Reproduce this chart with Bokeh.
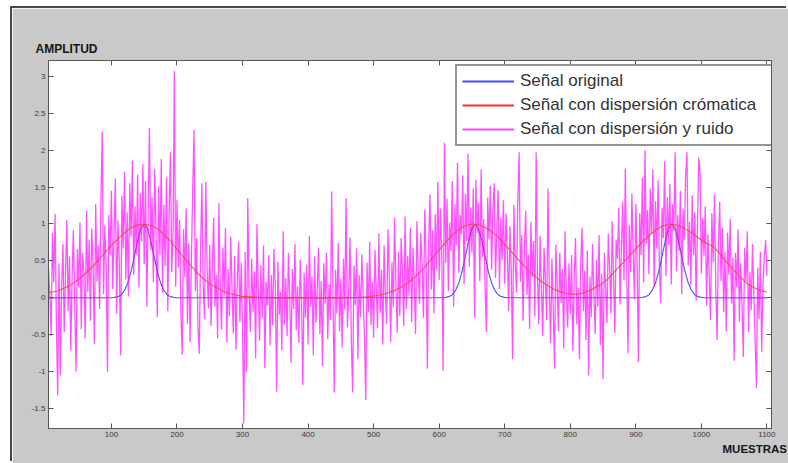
from bokeh.plotting import figure
from bokeh.models import Range1d, LinearAxis, FixedTicker, Legend, LegendItem, Title
from bokeh.embed import file_html
from bokeh.resources import INLINE

# ---------------- data ----------------
x_ticks = [100, 200, 300, 400, 500, 600, 700, 800, 900, 1000, 1100]
y_ticks = [-1.5, -1, -0.5, 0, 0.5, 1, 1.5, 2, 2.5, 3]
y_tick_labels = ["-1.5", "-1", "-0.5", "0", "0.5", "1", "1.5", "2", "2.5", "3"]

series_names = ["Señal original", "Señal con dispersión crómatica", "Señal con dispersión y ruido"]

# original signal (blue)
blue_x = [0,
          100, 105, 110, 115, 120, 125, 130, 135, 140, 145, 150, 155, 160, 165, 170, 175, 180, 185, 190, 195, 200,
          605, 610, 615, 620, 625, 630, 635, 640, 645, 650, 655, 660, 665, 670, 675, 680, 685, 690, 695, 700, 705,
          905, 910, 915, 920, 925, 930, 935, 940, 945, 950, 955, 960, 965, 970, 975, 980, 985, 990, 995, 1000, 1005,
          1100]
blue_y = [0,
          0.002, 0.006, 0.017, 0.044, 0.101, 0.203, 0.36, 0.563, 0.775, 0.938, 1.0, 0.938, 0.775, 0.563, 0.36, 0.203, 0.101, 0.044, 0.017, 0.006, 0.002,
          0.002, 0.006, 0.017, 0.044, 0.101, 0.203, 0.36, 0.563, 0.775, 0.938, 1.0, 0.938, 0.775, 0.563, 0.36, 0.203, 0.101, 0.044, 0.017, 0.006, 0.002,
          0.002, 0.006, 0.017, 0.044, 0.101, 0.203, 0.36, 0.563, 0.775, 0.938, 1.0, 0.938, 0.775, 0.563, 0.36, 0.203, 0.101, 0.044, 0.017, 0.006, 0.002,
          0]

# dispersed signal (red), one value every 10 samples from 0 to 1100
red_y = [0.07, 0.08, 0.10, 0.14, 0.19, 0.25, 0.33, 0.41, 0.51, 0.61,
         0.71, 0.80, 0.88, 0.95, 0.99, 1.00, 0.98, 0.94, 0.86, 0.77,
         0.66, 0.55, 0.45, 0.35, 0.26, 0.19, 0.14, 0.09, 0.06, 0.04,
         0.02, 0.015, 0.01, 0.005, 0.003, 0.0, 0.0, 0.0, 0.0, 0.0,
         0.0, 0.0, 0.0, 0.0, 0.0, 0.0, 0.0, 0.005, 0.009, 0.015,
         0.025, 0.04, 0.062, 0.093, 0.135, 0.19, 0.26, 0.34, 0.44, 0.54,
         0.65, 0.75, 0.85, 0.93, 0.98, 1.00, 0.99, 0.956, 0.897, 0.818,
         0.726, 0.627, 0.526, 0.43, 0.341, 0.263, 0.198, 0.14, 0.10, 0.07,
         0.05, 0.05, 0.065, 0.10, 0.15, 0.20, 0.28, 0.38, 0.47, 0.57,
         0.66, 0.76, 0.84, 0.92, 0.97, 1.00, 0.99, 0.96, 0.91, 0.85,
         0.78, 0.73, 0.68, 0.58, 0.47, 0.37, 0.28, 0.19, 0.14, 0.10,
         0.08]
red_x = [10 * i for i in range(len(red_y))]

# dispersed + noise (magenta), one value every 2 samples from 0 to 1100
noisy_y = [
    0.62, -0.35, 0.41, 0.05, -0.52, 0.88, 0.21, 1.14, -0.28, -1.32, 0.47, -1.05, 0.12, 0.73, -0.46, 0.34, 1.05, -0.18, 0.56, -0.71, 0.28, 0.92, -0.09, -1.0, 0.66,
    0.15, 1.02, -0.42, 0.61, 0.33, -0.55, 1.18, 0.08, 0.79, -0.31, 0.94, 0.46, -0.62, 1.27, 0.22, 0.71, -0.15, 1.33, 2.25, 0.05, 0.98, 0.41, -1.0, 1.12, 0.58,
    1.45, 0.12, 0.86, 1.62, -0.21, 1.05, 0.48, -0.78, 1.38, 0.67, 1.71, 0.25, 1.16, 0.02, 1.55, 0.83, 1.86, 0.31, 1.24, 0.59, 1.67, 0.14, 1.42, 0.76, 1.81,
    0.46, 1.58, -0.12, 1.19, 2.3, 0.64, 1.37, 0.21, 1.74, 0.92, -0.26, 1.51, 0.58, 1.88, 0.07, 1.26, 0.43, 1.63, -0.18, 1.14, 1.97, 0.35, 0.88, 3.07, 0.15,
    1.32, 0.41, 1.06, -0.22, -0.77, 0.93, 0.28, 1.21, -0.35, 0.74, -0.6, 0.52, 1.45, 2.27, 0.09, 0.81, -0.41, -0.76, 0.66, 1.55, 0.18, -0.29, 1.57, 0.37, -0.14,
    0.72, -0.38, 0.45, 1.08, -0.12, 0.31, -0.55, 1.28, 0.16, -0.43, 0.68, 0.02, 0.95, -0.6, 0.39, -0.25, 0.83, 0.11, -0.48, 0.57, -0.7, 0.24, 0.76, -0.33, 0.48,
    -0.41, -1.7, 0.62, -1.0, 1.35, 0.07, -0.46, 0.53, -0.19, 0.36, -0.82, 1.0, 0.14, -0.58, 0.44, -0.27, 0.71, -0.95, 0.22, -0.11, 0.58, -0.64, 0.31, -0.37, 0.66,
    0.18, -1.27, 0.49, -0.23, 0.08, -0.71, 0.9, -0.36, 0.27, -0.52, 0.61, 0.04, -0.88, 0.39, -0.15, 0.73, -0.44, 0.16, -0.61, 0.52, -0.05, -1.18, 0.34, -0.27, 0.45,
    -0.63, 0.84, -0.12, 0.29, -0.78, 0.56, -0.34, 0.11, 0.68, -0.49, 0.23, -0.92, 0.47, -0.08, 0.61, -0.56, 0.19, -0.3, 1.44, 0.02, -1.28, 0.38, -0.21, 0.74, -0.45,
    0.26, -0.67, 0.53, -0.16, 1.35, -0.4, 0.09, 0.82, -0.58, -1.28, 0.44, -0.1, 0.67, -0.83, 0.31, -0.26, 0.59, 0.05, -0.52, -1.38, 0.48, -0.19, 0.76, -0.37, 0.22,
    -0.54, 0.65, 0.12, -0.41, 0.87, -0.2, 0.38, -0.63, 0.71, 0.04, -0.35, 0.93, 0.26, -0.6, 0.49, -0.13, 1.08, 0.17, -0.47, 0.62, -0.24, 0.81, 0.33, -0.38, 1.1,
    -0.15, 0.57, 0.03, 0.95, -0.33, 0.68, 0.21, -0.49, 1.04, 0.36, -0.08, 0.88, 0.45, -0.27, 1.19, 0.52, -0.96, 0.74, 1.4, 0.11, 0.92, -0.21, 1.13, 0.38, 1.57,
    0.24, 1.21, 0.56, -0.99, 2.1, 0.47, 1.34, 0.09, 1.02, 0.63, 1.58, -0.12, 1.27, 0.71, 1.83, 0.34, 1.12, 0.86, 1.66, 0.18, 1.41, 0.77, 1.95, 0.42, 1.23,
    0.61, 1.48, -0.27, 1.6, 0.88, 1.29, 0.23, 1.74, 0.55, 1.07, 0.16, -0.46, 1.36, 0.79, 1.52, 0.38, 1.18, 1.55, 0.27, 0.94, 1.46, 0.12, 1.08, 0.51, 1.32,
    0.19, 1.14, 0.62, -0.18, 0.97, 0.35, -0.83, 1.26, 0.48, 0.07, 1.37, 1.97, 0.22, 0.85, -0.31, 0.66, 1.18, 0.04, 0.59, -0.42, 1.03, 0.28, 0.77, -0.25, 1.97,
    0.31, -0.36, 0.84, 0.12, -0.52, 0.67, 0.25, -0.3, 1.48, 0.09, -0.61, 0.53, -0.14, -0.96, 0.72, 0.18, -0.45, 0.61, -0.07, 0.39, -0.68, 0.9, 0.03, -0.4, 0.47,
    -0.22, 0.58, -0.71, 0.26, 0.81, -0.36, 0.14, -0.83, 0.49, 0.95, -0.18, 0.37, -0.57, 0.64, -1.05, 0.29, -0.26, 0.73, 0.06, -0.49, 0.52, -0.12, 0.85, -0.64, 0.33,
    -1.1, 0.61, 0.15, -0.34, 0.87, 0.42, -0.21, 1.04, 0.28, -0.47, 0.79, 0.53, 1.22, -0.09, 0.66, 1.3, 0.24, 1.75, 0.47, -0.75, 0.98, 0.35, 1.41, 0.61, -0.02,
    1.27, 0.44, -0.87, 1.15, 0.58, 1.63, 0.21, 2.0, 0.73, 1.19, 0.32, 1.48, 0.86, 1.74, 0.15, 1.31, 0.67, 1.59, 0.4, -0.07, 1.22, 0.81, 1.85, 0.29, 1.36,
    0.72, 1.54, 0.18, 1.27, 0.91, 1.97, 0.36, 1.12, 0.63, 1.45, 0.05, 1.21, 0.78, 1.66, 1.97, 0.44, 1.03, 0.17, 1.39, 0.58, 1.16, -0.04, 0.92, 1.9, 1.7,
    0.33, 1.08, 0.57, 1.24, -0.11, 0.86, 0.29, -0.3, 1.15, 0.48, 1.4, 0.12, -0.57, 0.74, 1.3, 0.23, 0.95, -0.19, 0.62, -0.45, 0.88, 0.31, 1.07, -0.08, 0.54,
    -0.85, 0.61, 0.14, 0.93, -0.32, 0.47, -0.11, -0.8, 0.68, 0.22, 0.9, -0.46, 0.35, -0.17, 0.73, 0.06, -0.58, -1.22, 0.41, -0.29, 0.62, -0.73, 0.19, 0.55, 0.78,
    0.3]
noisy_x = [2 * i for i in range(len(noisy_y))]

# ---------------- figure ----------------
p = figure(width=776, height=455,
           x_range=Range1d(4, 1107), y_range=Range1d(-1.767, 3.212),
           output_backend="svg", toolbar_location=None,
           x_axis_location=None, y_axis_location=None,
           min_border_left=36, min_border_top=52, min_border_right=17, min_border_bottom=35)
p.margin = (8, 0, 0, 12)
p.styles = {"box-shadow": "-2px -2px 0 0 #4a4a4a"}
p.border_fill_color = "#c9c9c9"
p.background_fill_color = "white"
p.outline_line_color = "#555555"
p.outline_line_width = 1
p.xgrid.grid_line_color = None
p.ygrid.grid_line_color = None

AX = "#555555"


def style_axis(ax, show_labels, ticks):
    ax.major_tick_in = 5
    ax.major_tick_out = 0
    ax.minor_tick_line_color = None
    ax.axis_line_color = AX
    ax.major_tick_line_color = AX
    ax.major_label_text_font = "Liberation Sans"
    ax.major_label_text_color = "#3a3a3a"
    ax.major_label_standoff = 3
    ax.major_label_text_font_size = "8px"
    if not show_labels:
        ax.major_label_overrides = {t: "" for t in ticks}


xb = LinearAxis(ticker=FixedTicker(ticks=x_ticks))
style_axis(xb, True, x_ticks)
xt = LinearAxis(ticker=FixedTicker(ticks=x_ticks))
style_axis(xt, False, x_ticks)
yl = LinearAxis(ticker=FixedTicker(ticks=y_ticks),
                major_label_overrides={t: s for t, s in zip(y_ticks, y_tick_labels)})
style_axis(yl, True, y_ticks)
yr = LinearAxis(ticker=FixedTicker(ticks=y_ticks))
style_axis(yr, False, y_ticks)
p.add_layout(xb, "below")
p.add_layout(xt, "above")
p.add_layout(yl, "left")
p.add_layout(yr, "right")

BLUE = "#4d5ff7"
RED = "#ff4434"
MAG = "#ff00ff"

r_blue = p.line(blue_x, blue_y, line_color=BLUE, line_width=1.2)
r_mag = p.line(noisy_x, noisy_y, line_color=MAG, line_width=1.3, line_alpha=0.68)
r_red = p.line(red_x, red_y, line_color=RED, line_width=1.1, line_alpha=0.9)

# legend keys: thicker strokes, one point each (nothing drawn in the plot)
k_blue = p.line(blue_x[:1], blue_y[:1], line_color="#3c4cff", line_width=2)
k_red = p.line(red_x[:1], red_y[:1], line_color="#ff3030", line_width=2)
k_mag = p.line(noisy_x[:1], noisy_y[:1], line_color="#ff44ff", line_width=2)

legend = Legend(items=[LegendItem(label=series_names[0], renderers=[k_blue]),
                       LegendItem(label=series_names[1], renderers=[k_red]),
                       LegendItem(label=series_names[2], renderers=[k_mag])],
                location=(407, 282))
legend.label_text_font = "Liberation Sans"
legend.label_text_font_size = "17px"
legend.label_text_color = "#333333"
legend.glyph_width = 52
legend.glyph_height = 20
legend.label_height = 20
legend.label_width = 248
legend.label_standoff = 6
legend.spacing = 4
legend.padding = 5
legend.margin = 0
legend.border_line_color = "#2a2a2a"
legend.border_line_width = 2
legend.background_fill_color = "white"
legend.background_fill_alpha = 1
p.add_layout(legend, "center")

p.title.text = "AMPLITUD"
p.title.align = "left"
p.title.offset = -13
p.title.standoff = 9
p.title.text_font = "Liberation Sans"
p.title.text_font_style = "bold"
p.title.text_font_size = "12px"
p.title.text_color = "#151515"

p.add_layout(Title(text="MUESTRAS", align="left", offset=674, standoff=2,
                   text_font="Liberation Sans", text_font_style="bold",
                   text_font_size="11.5px", text_color="#151515"), "below")

open("out.html", "w").write(file_html(p, INLINE))
